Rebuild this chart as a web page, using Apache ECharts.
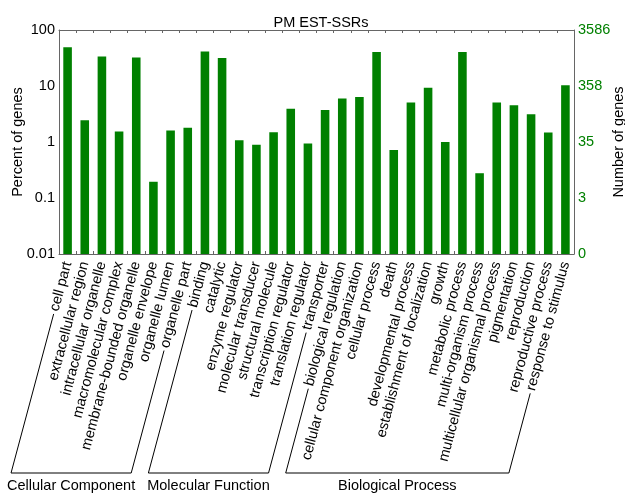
<!DOCTYPE html>
<html><head><meta charset="utf-8">
<script src="https://cdn.jsdelivr.net/npm/echarts@6/dist/echarts.min.js"></script>
<style>html,body{margin:0;padding:0;background:#fff}#c{width:625px;height:494px}</style>
</head><body><div id="c"></div>
<script>
const categories = [
  'cell part','extracellular region','intracellular organelle','macromolecular complex',
  'membrane-bounded organelle','organelle envelope','organelle lumen','organelle part',
  'binding','catalytic','enzyme regulator','molecular transducer','structural molecule',
  'transcription regulator','translation regulator','transporter',
  'biological regulation','cellular component organization','cellular process','death',
  'developmental process','establishment of localization','growth','metabolic process',
  'multi-organism process','multicellular organismal process','pigmentation','reproduction',
  'reproductive process','response to stimulus'
];
const percentOfGenes = [
  49.3, 2.44, 33.7, 1.54, 32.4, 0.195, 1.60, 1.79,
  41.4, 31.5, 1.08, 0.89, 1.50, 3.93, 0.94, 3.72,
  6.0, 6.33, 40.3, 0.72, 5.09, 9.27, 0.995, 40.3, 0.277, 5.09, 4.51, 3.12, 1.48, 10.3
];
const groups = [
  {name: 'Cellular Component', first: 0, last: 7},
  {name: 'Molecular Function', first: 8, last: 15},
  {name: 'Biological Process', first: 16, last: 29}
];
const leftTickLabels = ['0.01', '0.1', '1', '10', '100'];
const rightTickLabels = ['0', '3', '35', '358', '3586'];

const FONT = 'Liberation Sans';
const GREEN = '#008000';
const AXIS = '#666666';
const FS = 14.5;
const ROT = 75, LABEL_MARGIN = 8;
const Y_MIN = 0.01, Y_MAX = 100;

function tickIdx(v) { return Math.round(Math.log10(v)) + 2; }

const chart = echarts.init(document.getElementById('c'), null, {renderer: 'canvas'});
chart.setOption({
  animation: false,
  textStyle: {fontFamily: FONT},
  title: {text: 'PM EST-SSRs', left: 316, top: 10, textAlign: 'center',
    textStyle: {fontFamily: FONT, fontSize: FS, fontWeight: 'normal', color: '#000'}},
  grid: {left: 59, right: 51, top: 30, bottom: 240, containLabel: false, outerBoundsMode: 'none'},
  xAxis: [{
    type: 'category', data: categories, position: 'bottom',
    axisLine: {lineStyle: {color: AXIS}},
    axisTick: {show: true, inside: true, length: 3, interval: 0, lineStyle: {color: AXIS}},
    axisLabel: {interval: 0, rotate: ROT, margin: LABEL_MARGIN, fontSize: FS, color: '#000', fontFamily: FONT}
  }, {
    type: 'category', data: categories, position: 'top',
    axisLine: {lineStyle: {color: AXIS}},
    axisTick: {show: true, inside: true, length: 3, interval: 0, lineStyle: {color: AXIS}},
    axisLabel: {show: false}
  }],
  yAxis: [{
    type: 'log', logBase: 10, min: Y_MIN, max: Y_MAX, position: 'left',
    name: 'Percent of genes', nameLocation: 'middle', nameRotate: 90, nameGap: 34, nameMoveOverlap: false,
    nameTextStyle: {fontSize: FS, color: '#000', fontFamily: FONT},
    axisLine: {show: true, lineStyle: {color: AXIS}},
    axisTick: {show: false}, splitLine: {show: false},
    axisLabel: {fontSize: FS, color: '#000', margin: 4, fontFamily: FONT,
      formatter: v => leftTickLabels[tickIdx(v)]}
  }, {
    type: 'log', logBase: 10, min: Y_MIN, max: Y_MAX, position: 'right',
    name: 'Number of genes', nameLocation: 'middle', nameRotate: 90, nameGap: 37, nameMoveOverlap: false,
    nameTextStyle: {fontSize: FS, color: '#000', fontFamily: FONT},
    axisLine: {show: true, lineStyle: {color: AXIS}},
    axisTick: {show: false}, splitLine: {show: false},
    axisLabel: {fontSize: FS, color: GREEN, margin: 4, fontFamily: FONT,
      formatter: v => rightTickLabels[tickIdx(v)]}
  }],
  series: [{
    type: 'custom', xAxisIndex: 0, yAxisIndex: 0,
    data: percentOfGenes.map((v, i) => [i, v]),
    encode: {x: 0, y: 1},
    renderItem: function (params, api) {
      const i = api.value(0), v = api.value(1);
      const top = api.coord([i, v]);
      const base = api.coord([i, Y_MIN]);
      const w = api.size([1, 1])[0] * 0.5;
      return {type: 'rect', shape: {x: top[0] - w / 2, y: top[1], width: w, height: base[1] - top[1]},
        style: {fill: GREEN}};
    }
  }]
});

// group brackets, computed from axis positions and label lengths
const ctx = document.createElement('canvas').getContext('2d');
function textWidth(t, size) { ctx.font = size + 'px "' + FONT + '"'; return ctx.measureText(t).width; }
const rad = ROT * Math.PI / 180, cs = Math.cos(rad), sn = Math.sin(rad);
const yBase = chart.convertToPixel({yAxisIndex: 0}, Y_MIN);
function labelEnd(i, gap) {
  const x = chart.convertToPixel({xAxisIndex: 0}, categories[i]);
  const L = textWidth(categories[i], FS) + gap;
  return [x - L * cs, yBase + LABEL_MARGIN + L * sn];
}
const BRACKET_Y = 473;
function extendTo(p, y) { const dy = y - p[1]; return [p[0] - dy * cs / sn, y]; }
const graphics = [];
groups.forEach(g => {
  const a = labelEnd(g.first, 3), b = labelEnd(g.last, 3);
  const a2 = extendTo(a, BRACKET_Y), b2 = extendTo(b, BRACKET_Y);
  graphics.push({type: 'polyline', shape: {points: [a, a2, b2, b]},
    style: {stroke: '#000', lineWidth: 1, fill: null}, silent: true});
  graphics.push({type: 'text', x: (a2[0] + b2[0]) / 2, y: BRACKET_Y + 13,
    style: {text: g.name, fontSize: FS, fontFamily: FONT, fill: '#000', align: 'center', verticalAlign: 'middle'}});
});
chart.setOption({graphic: graphics});
</script></body></html>
